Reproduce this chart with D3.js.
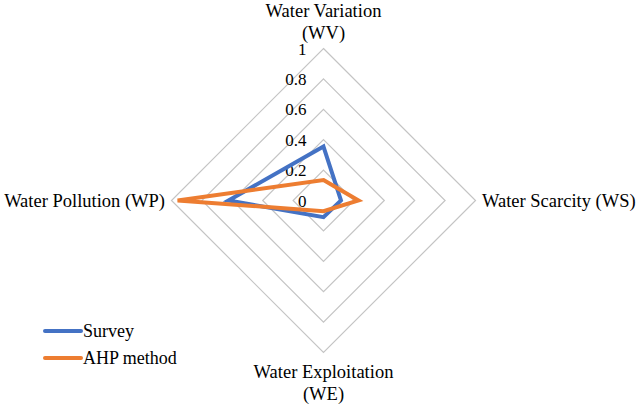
<html>
<head>
<script src="https://d3js.org/d3.v7.min.js"></script>
</head>
<body style="margin:0">
<svg width="640" height="406"></svg>
<script>
    // axes (clockwise from top)
    var axisNames = [["Water Variation", "(WV)"], ["Water Scarcity (WS)"], ["Water Exploitation", "(WE)"], ["Water Pollution (WP)"]];
    var tickValues = [0, 0.2, 0.4, 0.6, 0.8, 1];
    var seriesNames = ["Survey", "AHP method"];
    var survey = [0.355, 0.115, 0.11, 0.625];
    var ahp = [0.135, 0.23, 0.07, 0.96];
    var colors = ["#4472C4", "#ED7D31"];

    var serif = "'Liberation Serif', 'Times New Roman', Tinos, Times, serif";
    var svg = d3.select("svg");
    var cx = 323.5, cy = 200.5, radius = 152;
    var r = d3.scaleLinear().domain([0, 1]).range([0, radius]);

    function point(i, v) {
        var a = -Math.PI / 2 + i * Math.PI / 2;
        return [cx + r(v) * Math.cos(a), cy + r(v) * Math.sin(a)];
    }

    function label(sel, size) {
        return sel.style("font-family", serif)
            .style("font-size", size + "px")
            .attr("fill", "#000");
    }

    // grid rings
    var g = svg.append("g");
    tickValues.slice(1).forEach(function (t) {
        g.append("polygon")
            .attr("points", axisNames.map(function (d, i) { return point(i, t).join(","); }).join(" "))
            .attr("fill", "none")
            .attr("stroke", "#c4c4c4")
            .attr("stroke-width", 1.2);
    });

    // tick labels
    label(g.selectAll(".tick")
        .data(tickValues)
        .enter()
        .append("text")
        .attr("x", cx - 17)
        .attr("y", function (d) { return cy - r(d) + 6; })
        .attr("text-anchor", "end")
        .text(function (d) { return d; }), 17);

    // series
    var line = d3.line().curve(d3.curveLinearClosed);
    [survey, ahp].forEach(function (vals, k) {
        svg.append("path")
            .attr("d", line(vals.map(function (v, i) { return point(i, v); })))
            .attr("fill", "none")
            .attr("stroke", colors[k])
            .attr("stroke-width", 4)
            .attr("stroke-linejoin", "miter");
    });

    // axis labels
    var labelPos = [
        { x: cx, y: 17, anchor: "middle" },
        { x: 482, y: cy + 6, anchor: "start" },
        { x: cx, y: 378, anchor: "middle" },
        { x: 165, y: cy + 6, anchor: "end" }
    ];
    axisNames.forEach(function (lines, i) {
        lines.forEach(function (s, j) {
            label(svg.append("text")
                .attr("x", labelPos[i].x)
                .attr("y", labelPos[i].y + j * 22)
                .attr("text-anchor", labelPos[i].anchor)
                .text(s), 18.5);
        });
    });

    // legend
    var legend = svg.append("g").attr("transform", "translate(45,331)");
    seriesNames.forEach(function (name, k) {
        var row = legend.append("g").attr("transform", "translate(0," + (k * 27) + ")");
        row.append("line")
            .attr("x1", 0).attr("x2", 36).attr("y1", 0).attr("y2", 0)
            .attr("stroke", colors[k]).attr("stroke-width", 4).attr("stroke-linecap", "round");
        label(row.append("text")
            .attr("x", 38).attr("y", 6)
            .text(name), 18);
    });
</script>
</body>
</html>
